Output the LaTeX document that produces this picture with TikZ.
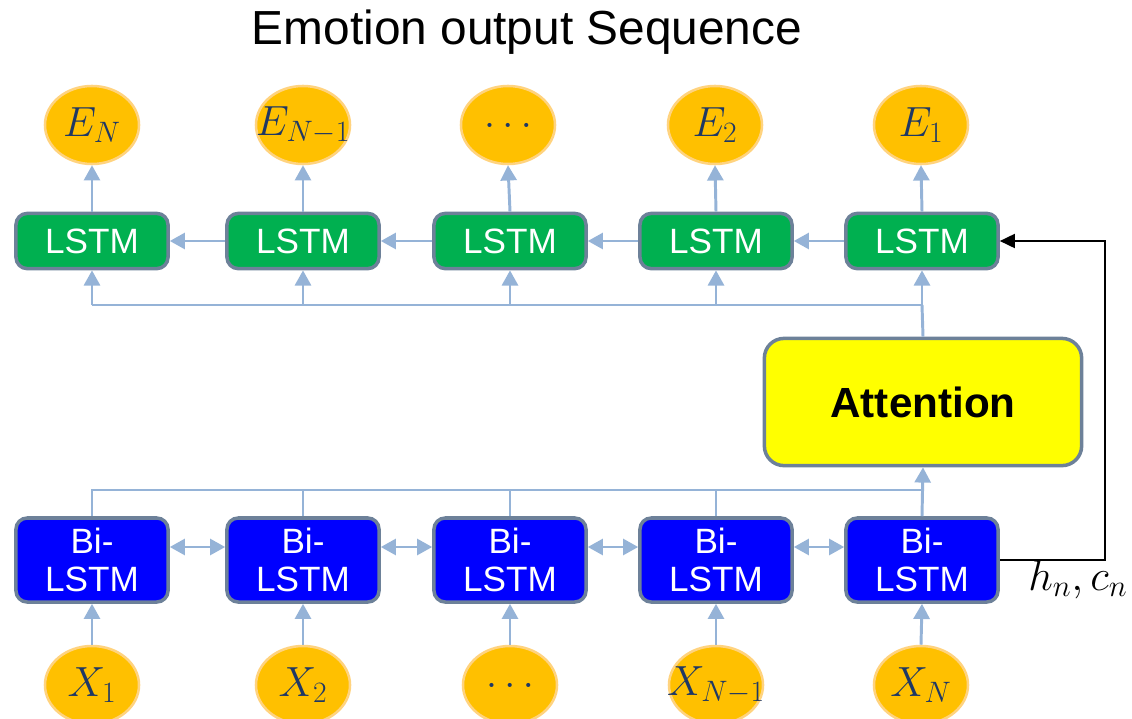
\RequirePackage{fix-cm}
\documentclass[tikz,border=0pt]{standalone}
\usepackage{fontspec}
\setmainfont{Liberation Sans}
\usetikzlibrary{arrows.meta,shapes.geometric}

\definecolor{lstmgreen}{HTML}{00B050}
\definecolor{bilstmblue}{HTML}{0000FF}
\definecolor{boxedge}{HTML}{6D8199}
\definecolor{linkblue}{HTML}{95B3D7}
\definecolor{seqorange}{HTML}{FFC000}
\definecolor{seqedge}{HTML}{FFD37F}
\definecolor{labelblue}{HTML}{1F3864}
\definecolor{attyellow}{HTML}{FFFF00}

\tikzset{
  lstm/.style={draw=boxedge, line width=2.5pt, fill=lstmgreen, rounded corners=8pt,
    minimum width=3.8cm, minimum height=1.38cm, text=white, font=\fontsize{25}{27}\selectfont},
  bilstm/.style={lstm, fill=bilstmblue, minimum height=2.1cm, align=center},
  seq/.style={ellipse, draw=seqedge, line width=1.8pt, fill=seqorange, inner sep=0pt,
    minimum width=2.35cm, minimum height=1.95cm, text=labelblue, font=\fontsize{30}{32}\selectfont},
  link/.style={draw=linkblue, line width=2.1pt},
  linkarrow/.style={link, -{Triangle[length=0.38cm,width=0.4cm]}},
}

\begin{document}
\begin{tikzpicture}[x=0.025cm, y=-0.025cm]
    \useasboundingbox (0,0) rectangle (1132,718);
    \node (title) at (527,32) {\fontsize{34}{36}\selectfont Emotion output Sequence};

    % emotion outputs
    \node[seq] (e1) at (92,125) {$E_N$};
    \node[seq] (e2) at (303,125) {\makebox[0pt]{$E_{N-1}$}};
    \node[seq] (e3) at (508,125) {$\dots$};
    \node[seq] (e4) at (715,125) {$E_2$};
    \node[seq] (e5) at (921,125) {$E_1$};

    % decoder
    \node[lstm] (l1) at (92,241) {LSTM};
    \node[lstm] (l2) at (303,241) {LSTM};
    \node[lstm] (l3) at (510,241) {LSTM};
    \node[lstm] (l4) at (716,241) {LSTM};
    \node[lstm] (l5) at (922,241) {LSTM};

    \node[draw=boxedge, line width=2.5pt, fill=attyellow, rounded corners=14pt,
        minimum width=7.93cm, minimum height=3.18cm,
        font=\bfseries\fontsize{30}{32}\selectfont] (att) at (923,402) {Attention};

    % encoder
    \node[bilstm] (b1) at (92,560) {Bi-\\LSTM};
    \node[bilstm] (b2) at (303,560) {Bi-\\LSTM};
    \node[bilstm] (b3) at (510,560) {Bi-\\LSTM};
    \node[bilstm] (b4) at (716,560) {Bi-\\LSTM};
    \node[bilstm] (b5) at (922,560) {Bi-\\LSTM};

    % inputs
    \node[seq] (x1) at (92,685) {$X_1$};
    \node[seq] (x2) at (303,685) {$X_2$};
    \node[seq] (x3) at (510,685) {$\dots$};
    \node[seq] (x4) at (716,685) {\makebox[0pt]{$X_{N-1}$}};
    \node[seq] (x5) at (921,685) {$X_N$};

    \foreach \i in {1,...,5} {
        \draw[linkarrow] (l\i.north) -- (e\i.south);
        \draw[linkarrow] (x\i.north) -- (b\i.south);
    }
    \foreach \i/\j in {2/1,3/2,4/3,5/4}
        \draw[linkarrow] (l\i.west) -- (l\j.east);
    \foreach \i/\j in {1/2,2/3,3/4,4/5}
        \draw[link, {Triangle[length=0.38cm,width=0.4cm]}-{Triangle[length=0.38cm,width=0.4cm]}]
            ([yshift=0.325cm]b\i.east) -- ([yshift=0.325cm]b\j.west);

    % attention to decoder
    \coordinate (tbus) at (922,305);
    \draw[link] (l1.south |- tbus) -- (tbus);
    \draw[link] (att.north) -- (tbus);
    \foreach \i in {1,...,5}
        \draw[linkarrow] (l\i.south |- tbus) -- (l\i.south);

    % encoder to attention
    \coordinate (bbus) at (922,490);
    \draw[link] (b1.north) |- (bbus);
    \foreach \i in {2,...,4}
        \draw[link] (b\i.north) -- (b\i.north |- bbus);
    \draw[linkarrow] (b5.north) -- (att.south);

    % final state
    \coordinate (hcturn) at (1105,560);
    \draw[line width=1.6pt, -{Triangle[length=0.38cm,width=0.35cm]}] (b5.east) -- (hcturn) |- (l5.east);
    \node[anchor=base west, inner sep=0pt, font=\fontsize{31}{33}\selectfont] (hc) at (1028,590) {$h_n, c_n$};
\end{tikzpicture}
\end{document}
